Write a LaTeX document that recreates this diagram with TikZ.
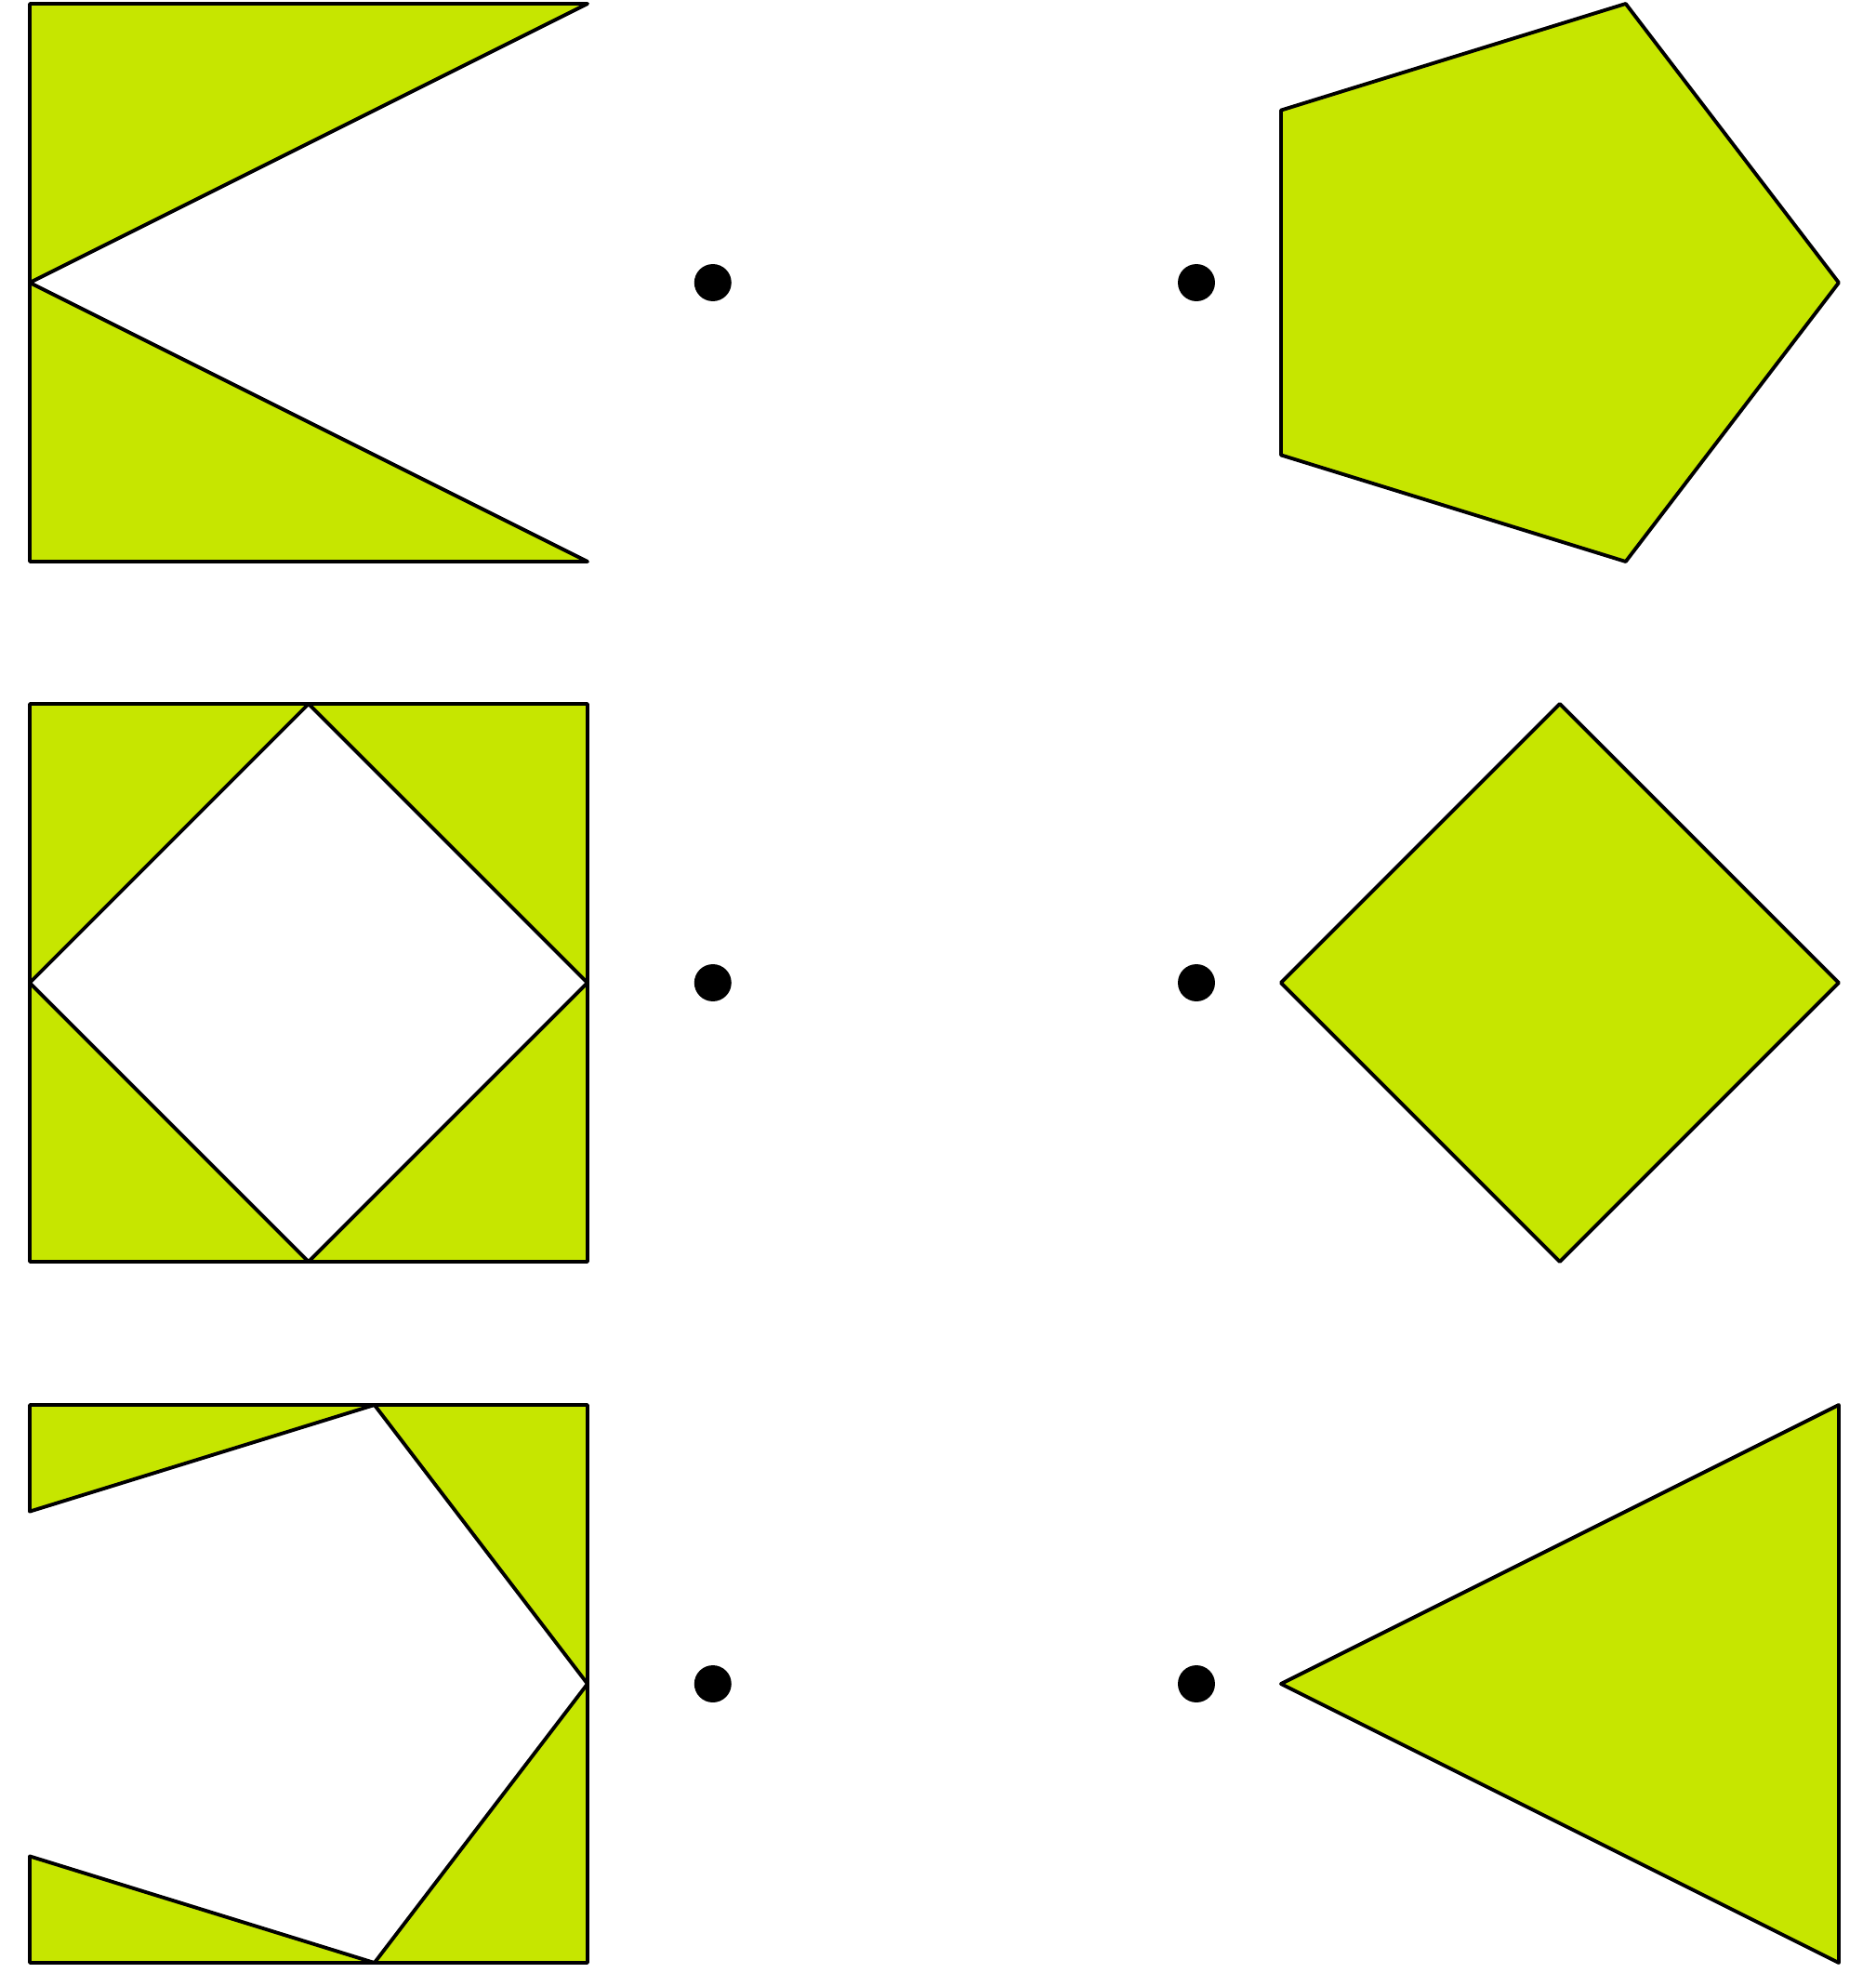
\documentclass[tikz,border=0pt]{standalone}
\usepackage{tikz}
\definecolor{piecegreen}{RGB}{198,230,0}

\begin{document}
\begin{tikzpicture}[x=6cm,y=6cm,
  piece/.style={fill=piecegreen,draw=black,line width=1.1pt,line join=round},
  dot/.style={fill=black}]
\path (0,0) rectangle (3.3633,3.5367);
\begin{scope}[shift={(0.0533,2.53)}]
\draw[piece] (0,1) -- (1,1) -- (0,0.5) -- cycle;
\draw[piece] (0,0.5) -- (1,0) -- (0,0) -- cycle;
\fill[dot] (1.2247,0.5) circle (0.0333);
\fill[dot] (2.0917,0.5) circle (0.0333);
\draw[piece] (3.2433,0.5) -- (2.8613,1) -- (2.2433,0.809) -- (2.2433,0.191) -- (2.8613,0) -- cycle;
\end{scope}
\begin{scope}[shift={(0.0533,1.275)}]
\draw[piece] (0,1) -- (0.5,1) -- (0,0.5) -- cycle;
\draw[piece] (0.5,1) -- (1,1) -- (1,0.5) -- cycle;
\draw[piece] (1,0.5) -- (1,0) -- (0.5,0) -- cycle;
\draw[piece] (0.5,0) -- (0,0) -- (0,0.5) -- cycle;
\fill[dot] (1.2247,0.5) circle (0.0333);
\fill[dot] (2.0917,0.5) circle (0.0333);
\draw[piece] (2.2433,0.5) -- (2.7433,1) -- (3.2433,0.5) -- (2.7433,0) -- cycle;
\end{scope}
\begin{scope}[shift={(0.0533,0.0183)}]
\draw[piece] (0,1) -- (0.618,1) -- (0,0.809) -- cycle;
\draw[piece] (0.618,1) -- (1,1) -- (1,0.5) -- cycle;
\draw[piece] (1,0.5) -- (1,0) -- (0.618,0) -- cycle;
\draw[piece] (0.618,0) -- (0,0) -- (0,0.191) -- cycle;
\fill[dot] (1.2247,0.5) circle (0.0333);
\fill[dot] (2.0917,0.5) circle (0.0333);
\draw[piece] (2.2433,0.5) -- (3.2433,1) -- (3.2433,0) -- cycle;
\end{scope}
\end{tikzpicture}
\end{document}
